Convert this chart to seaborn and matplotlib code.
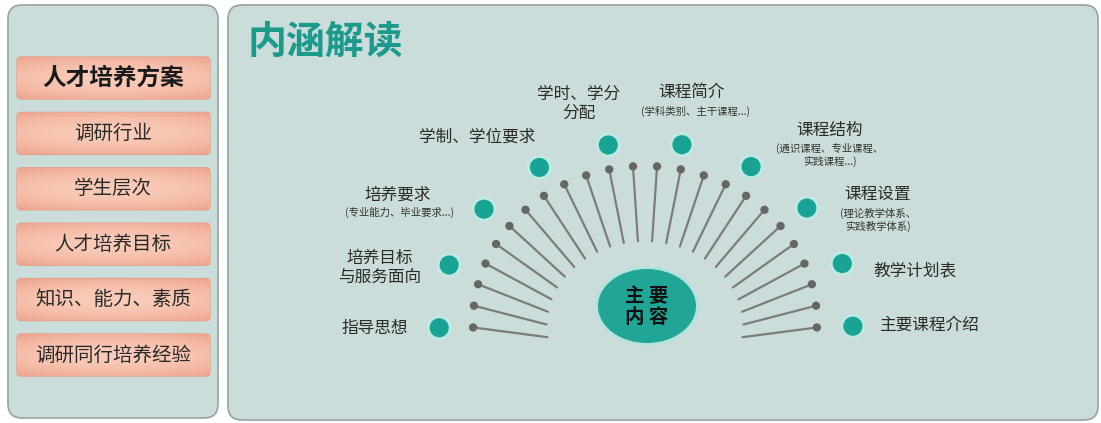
import numpy as np
import pandas as pd
import matplotlib
matplotlib.use("Agg")
import matplotlib.pyplot as plt
from matplotlib.patches import FancyBboxPatch, Ellipse
from matplotlib.colors import LinearSegmentedColormap
import seaborn as sns

sns.set_theme(style="white")
plt.rcParams['font.family'] = ['Noto Sans CJK SC', 'DejaVu Sans']

# ---- content ----
title = '内涵解读'
menu = ['人才培养方案', '调研行业', '学生层次', '人才培养目标', '知识、能力、素质', '调研同行培养经验']
center_label = '主 要\n内 容'
topics = ['指导思想', '培养目标\n与服务面向', '培养要求', '学制、学位要求', '学时、学分\n分配',
          '课程简介', '课程结构', '课程设置', '教学计划表', '主要课程介绍']
notes = ['', '', '(专业能力、毕业要求...)', '', '', '(学科类别、主干课程...)',
         '(通识课程、专业课程、\n实践课程...)', '(理论教学体系、\n实践教学体系)', '', '']
n_spokes = 24

# ---- layout (pixel units, y down) ----
W, H = 1101, 423
cx, cy = 645, 322
label_pos = [(375, 328, 'center'), (380, 268, 'center'), (398, 195, 'center'), (477, 137, 'center'),
             (579, 104, 'center'), (692, 93, 'center'), (830, 130, 'center'), (878, 194, 'center'),
             (873, 271, 'left'), (879, 325, 'left')]
note_pos = [None, None, (400, 212), None, None, (695, 111), (830, 155), (878, 220), None, None]

teal = '#19a394'
panel = '#cbdddb'
edge = '#9aa8a7'
salmon = LinearSegmentedColormap.from_list('salmon', ['#eea48d', '#f9cbb9'])

fig = plt.figure(figsize=(W / 100, H / 100), dpi=100)
ax = fig.add_axes([0, 0, 1, 1])
ax.set_xlim(0, W)
ax.set_ylim(H, 0)
ax.axis('off')

# panels
ax.add_patch(FancyBboxPatch((8, 5), 210, 413, boxstyle='round,pad=0,rounding_size=14',
                            fc=panel, ec=edge, lw=1.3))
ax.add_patch(FancyBboxPatch((228, 5), 870, 415, boxstyle='round,pad=0,rounding_size=14',
                            fc=panel, ec=edge, lw=1.3))

# left menu, soft gradient boxes
gx = np.linspace(-1, 1, 120)
gy = np.linspace(-1, 1, 30)
GX, GY = np.meshgrid(gx, gy)
shade = 1 - np.clip(0.35 * GX ** 2 + 0.65 * GY ** 2, 0, 1)
for i, m in enumerate(menu):
    top = 57 + 55.4 * i
    box = FancyBboxPatch((17, top), 193, 42, boxstyle='round,pad=0,rounding_size=4',
                         fc='#f5bba6', ec='#e3a18b', lw=1.0, zorder=2)
    ax.add_patch(box)
    im = ax.imshow(shade, cmap=salmon, extent=(17, 210, top + 42, top), aspect='auto',
                   interpolation='bilinear', zorder=2.5)
    im.set_clip_path(box)
    if i == 0:
        ax.text(113, top + 21, m, ha='center', va='center', fontsize=17, fontweight='bold',
                color='#1a1a1a', zorder=3)
    else:
        ax.text(113, top + 21, m, ha='center', va='center', fontsize=14, color='#2a2a2a', zorder=3)
ax.set_xlim(0, W)
ax.set_ylim(H, 0)

ax.text(248, 42, title, ha='left', va='center', fontsize=28, fontweight='bold', color='#1c9a8c')

# spokes
t = np.deg2rad(np.linspace(182, -2, n_spokes))
sx = cx + 172 * np.cos(t)
sy = cy - 156 * np.sin(t)
fx, fy = 645, 350
d = np.hypot(fx - sx, fy - sy)
ex = sx + (fx - sx) / d * 75
ey = sy + (fy - sy) / d * 75
for x0, y0, x1, y1 in zip(sx, sy, ex, ey):
    ax.plot([x0, x1], [y0, y1], color='#7c7c7c', lw=1.6, solid_capstyle='round', zorder=2)
spokes = pd.DataFrame({'x': sx, 'y': sy})
sns.scatterplot(data=spokes, x='x', y='y', ax=ax, s=36, color='#666666', edgecolor='none', zorder=3,
                legend=False)

# center ellipse
ax.add_patch(Ellipse((647, 306), 104, 80, fc='#b5e3dc', ec='none', zorder=3))
ax.add_patch(Ellipse((647, 306), 98, 74, fc='#20a596', ec='none', zorder=4))
ax.text(647, 307, center_label, ha='center', va='center', fontsize=14, fontweight='bold',
        color='#111111', linespacing=1.15, zorder=5)

# topic dots
tt = np.deg2rad(np.linspace(182.5, -2, len(topics)))
dots = pd.DataFrame({'x': cx + 1 + 207 * np.cos(tt), 'y': cy - 2 - 178 * np.sin(tt), 'topic': topics})
sns.scatterplot(data=dots, x='x', y='y', ax=ax, s=320, color='#bfeae4', edgecolor='none', zorder=3,
                legend=False)
sns.scatterplot(data=dots, x='x', y='y', ax=ax, s=190, color=teal, edgecolor='none', zorder=4,
                legend=False)

for k, lab in enumerate(topics):
    x, y, ha = label_pos[k]
    ax.text(x, y, lab, ha=ha, va='center', fontsize=12, color='#2b2b2b', linespacing=1.15)
    if note_pos[k] is not None:
        nx, ny = note_pos[k]
        ax.text(nx, ny, notes[k], ha='center', va='center', fontsize=7.5, color='#333333', linespacing=1.25)

ax.set_xlabel('')
ax.set_ylabel('')
ax.set_xlim(0, W)
ax.set_ylim(H, 0)
fig.savefig('out.png', dpi=100)
